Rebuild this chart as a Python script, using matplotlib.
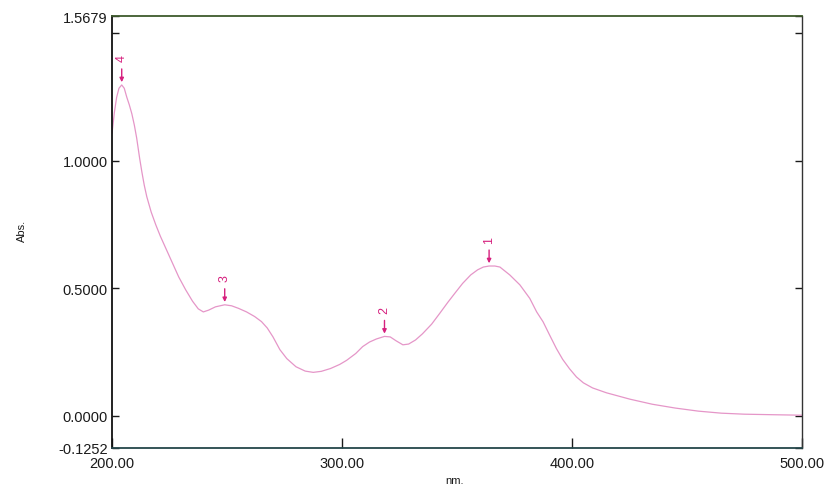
import matplotlib
matplotlib.use("Agg")
import matplotlib.pyplot as plt

# Spectrum (wavelength nm, absorbance)
wavelength = [200, 201, 202, 203, 204.2, 205.3, 206.4, 207.5, 208.6, 209.7, 210.7, 212, 213,
              214, 215.1, 217, 219, 221, 223.5, 226, 229, 232, 235, 237.5, 239.7, 242, 245,
              249, 252, 255, 258.5, 262, 265, 267.5, 270, 273, 276, 280, 284, 287.5, 291,
              295, 299, 302, 306, 309, 312, 315, 318.5, 321, 323.5, 326.5, 329, 332, 335,
              339, 342.5, 346, 349, 352.5, 356, 359, 361.5, 364, 366.5, 368.7, 373, 377.4,
              381.7, 384.7, 387.5, 390.4, 393.3, 396, 399, 402, 405, 409, 415, 425.2, 435, 445,
              455, 465, 475, 487, 500]
absorbance = [1.11, 1.19, 1.25, 1.285, 1.298, 1.285, 1.25, 1.22, 1.185, 1.14, 1.09, 1.01, 0.955,
              0.905, 0.86, 0.80, 0.75, 0.705, 0.655, 0.605, 0.545, 0.495, 0.45, 0.42, 0.408, 0.415, 0.428,
              0.436, 0.432, 0.422, 0.408, 0.39, 0.37, 0.345, 0.31, 0.26, 0.225, 0.193, 0.176, 0.171, 0.175,
              0.186, 0.202, 0.218, 0.245, 0.272, 0.29, 0.302, 0.312, 0.31, 0.295, 0.279, 0.282, 0.298, 0.322,
              0.36, 0.402, 0.445, 0.48, 0.52, 0.553, 0.573, 0.584, 0.588, 0.588, 0.584, 0.553, 0.514,
              0.461, 0.408, 0.369, 0.316, 0.264, 0.222, 0.185, 0.153, 0.130, 0.110, 0.091, 0.066, 0.046, 0.031,
              0.019, 0.011, 0.007, 0.005, 0.003]

peak_labels = ["1", "2", "3", "4"]
peak_wl = [364, 318.5, 249, 204.2]
peak_abs = [0.588, 0.312, 0.436, 1.298]

ytick_vals = [-0.1252, 0.0, 0.5, 1.0, 1.5, 1.5679]
ytick_labels = ["-0.1252", "0.0000", "0.5000", "1.0000", "", "1.5679"]
xtick_vals = [200, 300, 400, 500]
xtick_labels = ["200.00", "300.00", "400.00", "500.00"]

plt.rcParams['font.family'] = ['Liberation Sans', 'DejaVu Sans']

fig = plt.figure(figsize=(8.24, 4.89), dpi=100)
ax = fig.add_axes([0.136, 0.082, 0.837, 0.883])

line_col = '#e596c8'
mark_col = '#d6207e'

ax.plot(wavelength, absorbance, color=line_col, lw=0.9)

for lab, x, y in zip(peak_labels, peak_wl, peak_abs):
    ax.annotate('', xy=(x, y), xycoords='data', xytext=(0, 16), textcoords='offset pixels',
                arrowprops=dict(arrowstyle='-|>', color=mark_col, lw=1.0, mutation_scale=6,
                                shrinkA=0, shrinkB=2))
    ax.annotate(lab, xy=(x, y), xycoords='data', xytext=(0, 27), textcoords='offset pixels',
                rotation=90, ha='center', va='center', color=mark_col, fontsize=9)

ax.set_xlim(200, 500)
ax.set_ylim(-0.1252, 1.5679)

ax.set_yticks(ytick_vals)
ax.set_yticklabels(ytick_labels)
ax.set_xticks(xtick_vals)
ax.set_xticklabels(xtick_labels)

ax.tick_params(axis='y', direction='in', length=5, width=1.0, pad=3, labelsize=10.5,
               right=True, left=True, colors='#1a1a1a')
ax.tick_params(axis='x', direction='in', length=7, width=1.0, pad=6, labelsize=10.5,
               top=False, colors='#1a1a1a')

ax.spines['left'].set_color('#111111')
ax.spines['left'].set_linewidth(1.3)
ax.spines['top'].set_color('#3e5a2c')
ax.spines['top'].set_linewidth(1.3)
ax.spines['bottom'].set_color('#24464a')
ax.spines['bottom'].set_linewidth(1.3)
ax.spines['right'].set_color('#333333')
ax.spines['right'].set_linewidth(1.0)

fig.text(455 / 824, 1 - 481 / 489, "nm.", ha='center', va='center', fontsize=8, color='#1a1a1a')
fig.text(22 / 824, 1 - 231 / 489, "Abs.", ha='center', va='center', rotation=90, fontsize=8,
         color='#1a1a1a')

fig.savefig("out.png", dpi=100)
